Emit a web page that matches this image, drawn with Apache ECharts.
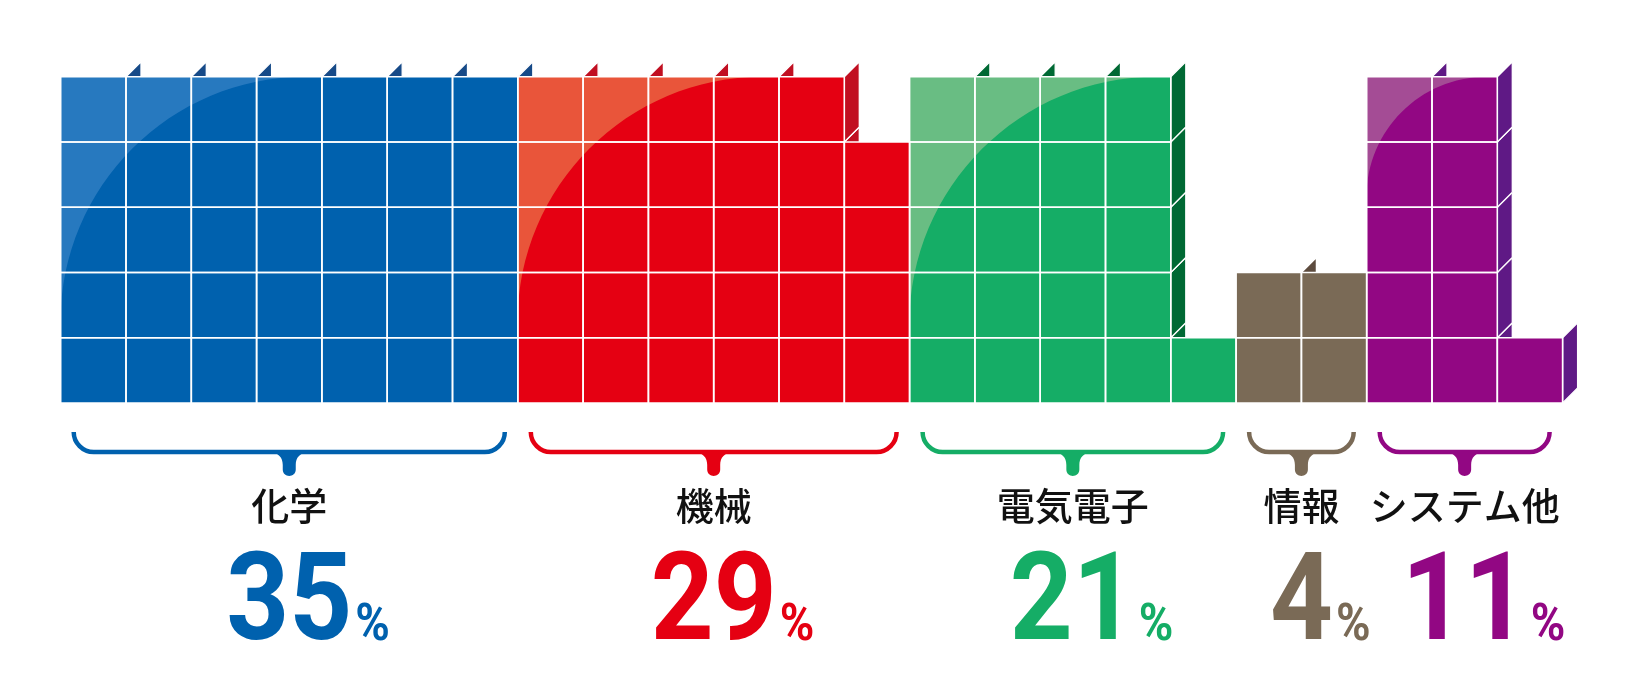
<!DOCTYPE html>
<html>
<head>
<meta charset="utf-8">
<title>分野別構成比</title>
<script src="https://cdn.jsdelivr.net/npm/echarts/dist/echarts.min.js"></script>
<style>
  html, body { margin: 0; padding: 0; background: #fff; }
  #root { width: 1640px; height: 700px; }
</style>
</head>
<body>
<div id="root"></div>
<script>
// 分野名
var categories = ['化学', '機械', '電気電子', '情報', 'システム他'];
// 構成比（%）
var shares = [35, 29, 21, 4, 11];
// 各分野の列ごとのマス数（1マス = 1%）
var columnHeights = [
  [5, 5, 5, 5, 5, 5, 5],
  [5, 5, 5, 5, 5, 4],
  [5, 5, 5, 5, 1],
  [2, 2],
  [5, 5, 1]
];
var rowsMax = 5;

// colours
var faceColors  = ['#0061ae', '#e50012', '#15ad66', '#7a6a56', '#920783'];
var sideColors  = ['#164a88', '#c10f21', '#006934', '#5d4b3e', '#5f1985'];
var shineColors = ['#2779bf', '#e9553a', '#69bd83', null, '#a44c95'];
var shineRadius = [245, 245, 247, 0, 120];
var DEPTH = 15;

// build cells [col, row, group] and group spans [startCol, endCol, group]
var cells = [];
var groups = [];
var col = 0;
columnHeights.forEach(function (cols, g) {
  var start = col;
  cols.forEach(function (h) {
    for (var r = 0; r < h; r++) cells.push([col, r, g]);
    col++;
  });
  groups.push([start, col, g]);
});
var totalCols = col;

var DIGIT_FONT = 'bold 122px Roboto';
var PCT_FONT = 'bold 52px Roboto';
var NUM_SCALE = 0.9;
var measureCtx = document.createElement('canvas').getContext('2d');
function textWidth(str, font) {
  measureCtx.font = font;
  return measureCtx.measureText(str).width;
}

function renderSide(params, api) {
  var c = api.value(0), r = api.value(1), g = api.value(2);
  var tr = api.coord([c + 1, r + 1]);
  var br = api.coord([c + 1, r]);
  return {
    type: 'polygon',
    shape: { points: [[tr[0], tr[1]], [tr[0] + DEPTH, tr[1] - DEPTH], [br[0] + DEPTH, br[1] - DEPTH], [br[0], br[1]]] },
    style: { fill: sideColors[g], stroke: '#fff', lineWidth: 1.3 }
  };
}

function cellRect(api) {
  var c = api.value(0), r = api.value(1);
  var p0 = api.coord([c, r + 1]);
  var p1 = api.coord([c + 1, r]);
  return { x: p0[0], y: p0[1], width: p1[0] - p0[0], height: p1[1] - p0[1] };
}

function renderFront(params, api) {
  return { type: 'rect', shape: cellRect(api), style: { fill: faceColors[api.value(2)] } };
}

function renderGridLine(params, api) {
  return { type: 'rect', shape: cellRect(api), style: { fill: 'none', stroke: '#fff', lineWidth: 1.6 } };
}

function renderShine(params, api) {
  var g = api.value(2), R = shineRadius[g];
  if (!R) return;
  var p = api.coord([api.value(0), rowsMax]);
  var x = p[0], y = p[1], k = 0.5523 * R;
  var d = 'M' + x + ',' + y + ' L' + (x + R) + ',' + y +
    ' C' + (x + R - k) + ',' + y + ' ' + x + ',' + (y + R - k) + ' ' + x + ',' + (y + R) + ' Z';
  return { type: 'path', shape: { pathData: d }, style: { fill: shineColors[g] } };
}

function renderBrace(params, api) {
  var g = api.value(2);
  var a = api.coord([api.value(0), 0]);
  var b = api.coord([api.value(1), 0]);
  var x0 = a[0] + 13, x1 = b[0] - 13, cx = (a[0] + b[0]) / 2;
  var yL = a[1] + 49, yTip = a[1] + 73, r = 20, q = r * 0.45;
  var line = 'M' + x0 + ',' + (yL - r) +
    ' C' + x0 + ',' + (yL - q) + ' ' + (x0 + q) + ',' + yL + ' ' + (x0 + r) + ',' + yL +
    ' L' + (x1 - r) + ',' + yL +
    ' C' + (x1 - q) + ',' + yL + ' ' + x1 + ',' + (yL - q) + ' ' + x1 + ',' + (yL - r);
  var notch = 'M' + (cx - 22) + ',' + yL +
    ' C' + (cx - 10) + ',' + yL + ' ' + (cx - 6.5) + ',' + (yL + 6) + ' ' + (cx - 6.5) + ',' + (yL + 13) +
    ' L' + (cx - 6.5) + ',' + (yTip - 6.5) +
    ' C' + (cx - 6.5) + ',' + (yTip + 2) + ' ' + (cx + 6.5) + ',' + (yTip + 2) + ' ' + (cx + 6.5) + ',' + (yTip - 6.5) +
    ' L' + (cx + 6.5) + ',' + (yL + 13) +
    ' C' + (cx + 6.5) + ',' + (yL + 6) + ' ' + (cx + 10) + ',' + yL + ' ' + (cx + 22) + ',' + yL + ' Z';
  return {
    type: 'group',
    children: [
      { type: 'path', shape: { pathData: line }, style: { fill: 'none', stroke: faceColors[g], lineWidth: 4.5 } },
      { type: 'path', shape: { pathData: notch }, style: { fill: faceColors[g] } }
    ]
  };
}

function renderText(params, api) {
  var g = api.value(2);
  var a = api.coord([api.value(0), 0]);
  var b = api.coord([api.value(1), 0]);
  var cx = (a[0] + b[0]) / 2;
  var num = String(shares[g]);
  var w = textWidth(num, DIGIT_FONT) * NUM_SCALE;
  return {
    type: 'group',
    children: [
      {
        type: 'text', x: cx, y: a[1] + 103,
        style: {
          text: categories[g], fill: '#111',
          font: '500 38px "Noto Sans CJK JP", "Noto Sans", sans-serif',
          align: 'center', verticalAlign: 'middle', textAlign: 'center', textVerticalAlign: 'middle'
        }
      },
      {
        type: 'text', x: cx, y: a[1] + 205, scaleX: NUM_SCALE,
        style: {
          text: num, fill: faceColors[g], font: DIGIT_FONT,
          align: 'center', verticalAlign: 'middle', textAlign: 'center', textVerticalAlign: 'middle'
        }
      },
      {
        type: 'text', x: cx + w / 2 + 3, y: a[1] + 224, scaleX: NUM_SCALE,
        style: {
          text: '%', fill: faceColors[g], font: PCT_FONT,
          align: 'left', verticalAlign: 'middle', textAlign: 'left', textVerticalAlign: 'middle'
        }
      }
    ]
  };
}

var chart = echarts.init(document.getElementById('root'), null, { renderer: 'canvas' });
var option = {
  backgroundColor: '#ffffff',
  animation: false,
  grid: { left: 60.7, top: 76.7, width: 1501.9, height: 326.3, containLabel: false, outerBoundsMode: 'none' },
  xAxis: { type: 'value', min: 0, max: totalCols, show: false },
  yAxis: { type: 'value', min: 0, max: rowsMax, show: false },
  series: [
    { type: 'custom', name: 'side', z: 1, renderItem: renderSide, data: cells, silent: true },
    { type: 'custom', name: 'front', z: 2, renderItem: renderFront, data: cells, silent: true },
    { type: 'custom', name: 'shine', z: 3, renderItem: renderShine, data: groups, silent: true },
    { type: 'custom', name: 'lines', z: 4, renderItem: renderGridLine, data: cells, silent: true },
    { type: 'custom', name: 'brace', z: 5, renderItem: renderBrace, data: groups, silent: true },
    { type: 'custom', name: 'label', z: 5, renderItem: renderText, data: groups, silent: true }
  ]
};
chart.setOption(option);
</script>
</body>
</html>
